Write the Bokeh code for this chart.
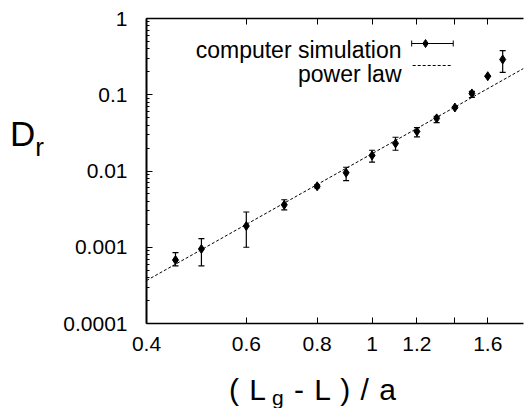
import numpy as np
from bokeh.plotting import figure
from bokeh.layouts import row, column
from bokeh.models import (ColumnDataSource, Whisker, TeeHead, FixedTicker, LogAxis,
                          Label, Range1d, CustomJSTickFormatter, Div)
from bokeh.embed import file_html
from bokeh.resources import INLINE

# ---- data ----
sim_x = [0.45, 0.5, 0.6, 0.7, 0.8, 0.9, 1.0, 1.1, 1.2, 1.3, 1.4, 1.5, 1.6, 1.7]
sim_y = [0.00068, 0.00095, 0.0019, 0.0036, 0.0063, 0.0095, 0.016, 0.023, 0.033,
         0.049, 0.068, 0.104, 0.175, 0.29]
sim_upper = [0.00085, 0.0013, 0.0029, 0.0042, 0.0066, 0.0112, 0.0187, 0.0277, 0.037,
             0.052, 0.070, 0.111, 0.175, 0.38]
sim_lower = [0.00057, 0.00057, 0.0010, 0.0031, 0.0060, 0.0075, 0.0131, 0.0187, 0.028,
             0.043, 0.066, 0.092, 0.175, 0.196]

fit_x = [0.4, 1.85]
fit_y = [0.000366, 0.221]

x_ticks = [0.4, 0.6, 0.8, 1.0, 1.2, 1.4, 1.6]
x_tick_labels = ["0.4", "0.6", "0.8", "1", "1.2", "", "1.6"]
y_ticks = [1e-4, 1e-3, 1e-2, 1e-1, 1.0]
y_tick_labels = ["0.0001", "0.001", "0.01", "0.1", "1"]

legend_labels = ["computer simulation", "power law"]

FONT = "Liberation Sans"
X0, X1 = 0.4, 1.85
Y0, Y1 = 1e-4, 1.0
W, H = 524, 408
LW = 60            # width of the left title strip
FIGH = 368         # height of the figure (title strip below)
FL = 142           # frame left, canvas pixels
BR, BT = 1, 18
BB = FIGH - BT - 305
FW, FH = W - FL - BR, 305

p = figure(width=W - LW, height=FIGH, x_axis_type="log", y_axis_type="log",
           x_range=Range1d(X0, X1), y_range=Range1d(Y0, Y1),
           output_backend="svg", toolbar_location=None,
           min_border_left=FL - LW, min_border_right=BR, min_border_top=BT,
           min_border_bottom=BB, margin=0)
p.outline_line_color = None
p.xgrid.visible = False
p.ygrid.visible = False
p.background_fill_color = "white"
p.border_fill_color = "white"


def fmt(tvals, tlabels):
    return CustomJSTickFormatter(args=dict(tv=tvals, tl=tlabels), code="""
        for (let i = 0; i < tv.length; i++) {
            if (Math.abs(tv[i] - tick) <= 1e-9 * Math.abs(tv[i])) return tl[i];
        }
        return '';
    """)


y_minor = [m * 10.0 ** k for k in range(-4, 0) for m in range(2, 10)]

xa = p.xaxis[0]
xa.ticker = FixedTicker(ticks=x_ticks, minor_ticks=[])
xa.formatter = fmt(x_ticks, x_tick_labels)
ya = p.yaxis[0]
ya.ticker = FixedTicker(ticks=y_ticks, minor_ticks=y_minor)
ya.formatter = fmt(y_ticks, y_tick_labels)

for ax in (xa, ya):
    ax.major_tick_in = 6
    ax.major_tick_out = 0
    ax.minor_tick_in = 3
    ax.minor_tick_out = 0
    ax.axis_line_color = "black"
    ax.major_tick_line_color = "black"
    ax.minor_tick_line_color = "black"
    ax.major_label_text_font = FONT
    ax.major_label_text_font_size = "21px"
    ax.major_label_text_color = "black"
xa.axis_line_width = 1.5
ya.axis_line_width = 2
xa.major_label_standoff = 13
ya.major_label_standoff = 19

top = LogAxis(ticker=FixedTicker(ticks=x_ticks, minor_ticks=[]),
              formatter=fmt(x_ticks, [""] * len(x_ticks)))
top.major_tick_in = 6
top.major_tick_out = 0
top.minor_tick_in = 0
top.minor_tick_out = 0
top.axis_line_width = 1.5
top.major_label_standoff = 0
top.major_label_text_font_size = "0px"
p.add_layout(top, "above")

# ---- data ----
src = ColumnDataSource(dict(x=sim_x, y=sim_y, upper=sim_upper, lower=sim_lower))
p.line(fit_x, fit_y, line_color="black", line_width=1, line_dash="3 2")
wh = Whisker(source=src, base="x", upper="upper", lower="lower", dimension="height",
             line_color="black", line_width=1.2,
             upper_head=TeeHead(size=6, line_width=1.2, line_color="black"),
             lower_head=TeeHead(size=6, line_width=1.2, line_color="black"))
p.add_layout(wh)
p.scatter("x", "y", source=src, marker="diamond", size=9, color="black")


# ---- legend drawn by hand (positions in canvas pixels) ----
def cx(px):
    return X0 * np.exp((px - FL) / FW * np.log(X1 / X0))


def cy(py):
    return 10 ** (np.log10(Y1) - (py - BT) / FH * np.log10(Y1 / Y0))


for txt, base in zip(legend_labels, (49, 73)):
    p.add_layout(Label(x=397 - FL, y=BT + FH - base, x_units="screen", y_units="screen",
                       text=txt, text_font=FONT, text_font_size="23px",
                       text_color="black", text_align="right",
                       text_baseline="alphabetic"))
p.segment(x0=[cx(410)], y0=[cy(43)], x1=[cx(452)], y1=[cy(43)], line_color="black",
          line_width=1)
p.segment(x0=[cx(410), cx(452)], y0=[cy(40), cy(40)], x1=[cx(410), cx(452)],
          y1=[cy(46), cy(46)], line_color="black", line_width=1)
p.scatter([cx(424)], [cy(43)], marker="diamond", size=8, color="black")
p.segment(x0=[cx(411)], y0=[cy(65)], x1=[cx(450)], y1=[cy(65)], line_color="black",
          line_width=1, line_dash="3 2")

# ---- axis titles (HTML text with subscripts) ----
y_title = Div(width=LW, height=FIGH, margin=0, text=(
    f'<div style="position:relative;width:{LW}px;height:{FIGH}px;">'
    f'<span style="position:absolute;left:10px;top:116px;font-family:\'{FONT}\';'
    'font-size:35px;line-height:35px;color:black;white-space:nowrap;">D'
    '<span style="font-size:26px;vertical-align:-10px;">r</span></span></div>'))

x_title = Div(width=W, height=H - FIGH, margin=0, text=(
    f'<div style="position:relative;width:{W}px;height:{H - FIGH}px;">'
    f'<span style="position:absolute;left:229px;top:7px;font-family:\'{FONT}\';'
    'font-size:30px;line-height:30px;color:black;white-space:nowrap;'
    'letter-spacing:1px;">( L'
    '<span style="font-size:21px;vertical-align:-5px;margin-left:5px;'
    'margin-right:1px;letter-spacing:0px;">g</span>'
    ' - L ) / a</span></div>'))

layout = column(row(y_title, p, spacing=0), x_title, spacing=0)

open("out.html", "w").write(file_html(layout, INLINE))
